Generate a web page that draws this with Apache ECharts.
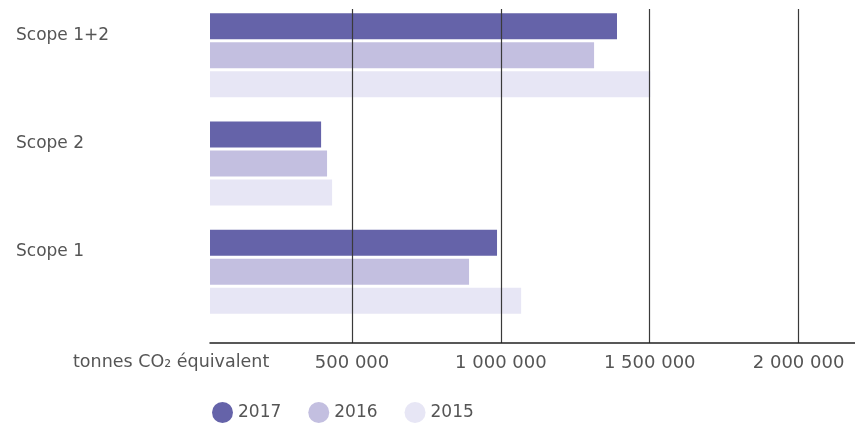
<!DOCTYPE html>
<html>
<head>
<meta charset="utf-8">
<script src="https://cdn.jsdelivr.net/npm/echarts@6/dist/echarts.min.js"></script>
<style>
  html, body { margin: 0; padding: 0; background: #fff; }
  #chart { width: 855px; height: 429px; }
</style>
</head>
<body>
<div id="chart"></div>
<script>
  // categories bottom -> top
  const categories = ['Scope 1', 'Scope 2', 'Scope 1+2']
  const years = ['2017', '2016', '2015']
  const values2017 = [987000, 396000, 1390000]
  const values2016 = [893000, 416000, 1313000]
  const values2015 = [1068000, 433000, 1502000]
  const tickValues = [500000, 1000000, 1500000, 2000000]

  const colors = { '2017': '#6563a9', '2016': '#c3bfe0', '2015': '#e7e6f5' }
  const font = 'DejaVu Sans'
  const textColor = '#555'
  const xMin = 22800
  const xMax = 2189500

  const fmt = v => String(v).replace(/\B(?=(\d{3})+(?!\d))/g, ' ')

  const chart = echarts.init(document.getElementById('chart'))

  const barSeries = (name, data) => ({
    name,
    type: 'bar',
    xAxisIndex: 0,
    yAxisIndex: 0,
    data,
    barWidth: 26,
    barGap: '11.5%',
    itemStyle: { color: colors[name] },
    clip: true,
    emphasis: { disabled: true },
  })

  chart.setOption({
    animation: false,
    textStyle: { fontFamily: font },
    title: {
      text: 'tonnes CO₂ équivalent',
      left: 73,
      top: 353,
      padding: 0,
      textStyle: { fontFamily: font, fontSize: 17.5, fontWeight: 'normal', color: textColor },
    },
    legend: {
      data: years,
      left: 212,
      top: 402,
      padding: 0,
      icon: 'circle',
      itemWidth: 21,
      itemHeight: 21,
      itemGap: 27,
      selectedMode: false,
      textStyle: { fontFamily: font, fontSize: 17, color: textColor },
    },
    grid: [
      { left: 210, right: 0, top: 1, height: 325, containLabel: false },
      { left: 210, right: 0, top: 9, bottom: 86, containLabel: false },
    ],
    xAxis: [
      {
        gridIndex: 0,
        type: 'value',
        min: xMin,
        max: xMax,
        show: false,
      },
      {
        gridIndex: 1,
        type: 'value',
        min: xMin,
        max: xMax,
        z: 10,
        axisLine: { show: true, lineStyle: { color: '#222', width: 1.5 } },
        axisTick: { show: false, customValues: tickValues },
        axisLabel: {
          customValues: tickValues,
          formatter: fmt,
          margin: 11,
          fontFamily: font,
          fontSize: 18,
          color: textColor,
        },
        splitLine: { show: true, lineStyle: { color: '#3a3a3a', width: 1.2 } },
      },
    ],
    yAxis: [
      {
        gridIndex: 0,
        type: 'category',
        data: categories,
        axisLine: { show: false },
        axisTick: { show: false },
        axisLabel: {
          align: 'left',
          margin: 194,
          formatter: v => `{t|${v}}`,
          rich: {
            t: {
              padding: [0, 0, 40, 0],
              fontFamily: font,
              fontSize: 17,
              color: textColor,
            },
          },
        },
      },
      {
        gridIndex: 1,
        type: 'value',
        min: 0,
        max: 1,
        show: false,
      },
    ],
    series: [
      barSeries('2017', values2017),
      barSeries('2016', values2016),
      barSeries('2015', values2015),
    ],
  })
</script>
</body>
</html>
